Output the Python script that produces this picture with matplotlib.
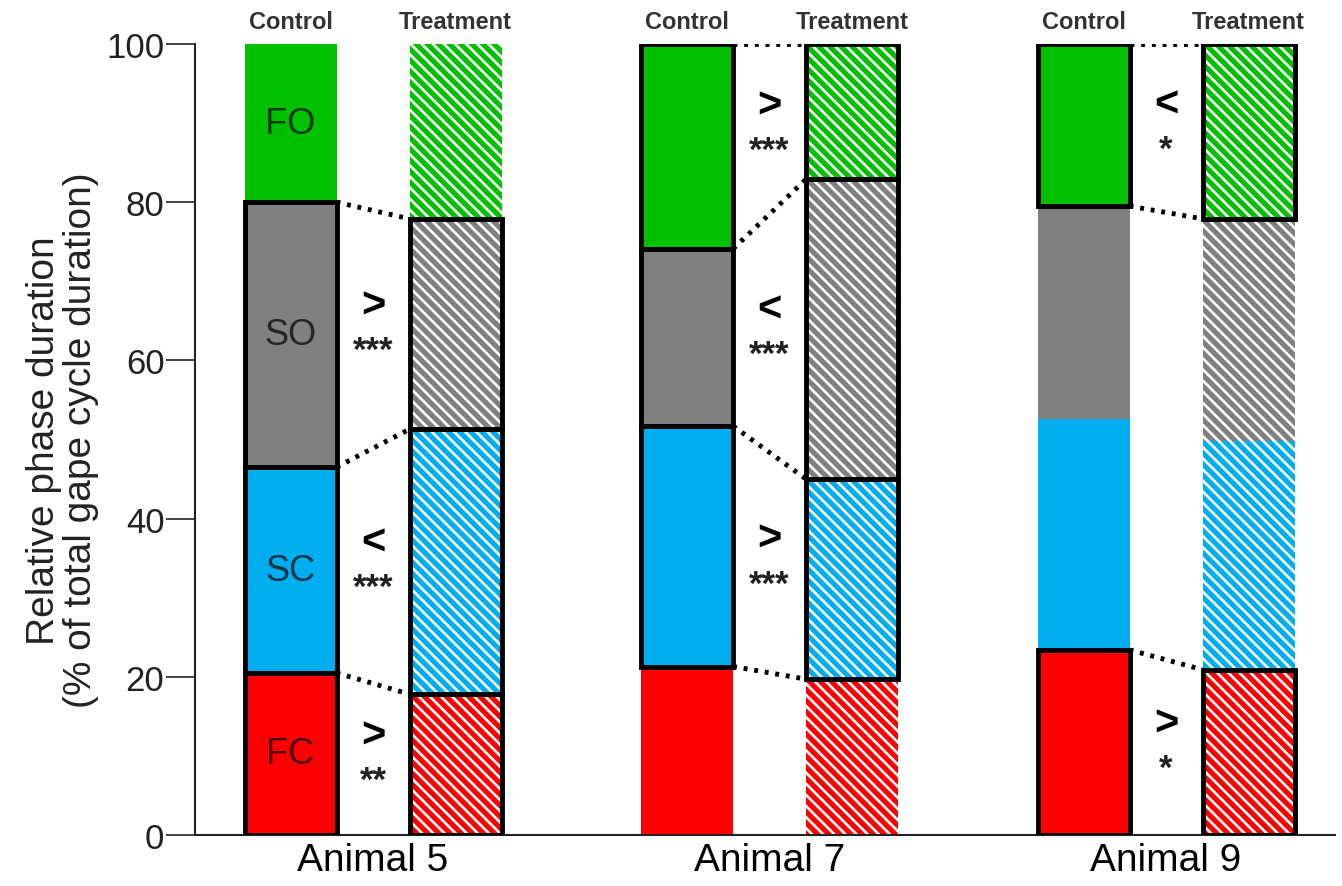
import numpy as np
import matplotlib
matplotlib.use("Agg")
import matplotlib.pyplot as plt

plt.rcParams['font.family'] = ['Liberation Sans', 'DejaVu Sans']
plt.rcParams['hatch.linewidth'] = 1.9

# phase durations (% of gape cycle), bottom to top: FC, SC, SO, FO
phases = ['FC', 'SC', 'SO', 'FO']
phase_colors = ['#ff0000', '#00aeef', '#808080', '#00c000']
animals = ['Animal 5', 'Animal 7', 'Animal 9']

control = [
    [20.5, 26.0, 33.5, 20.0],
    [21.3, 30.4, 22.4, 25.9],
    [23.4, 29.2, 26.9, 20.5],
]
treatment = [
    [17.8, 33.5, 26.6, 22.1],
    [19.7, 25.3, 37.9, 17.1],
    [20.9, 28.9, 28.1, 22.1],
]
# direction of the control vs treatment difference and its significance
direction = [
    ['>', '<', '>', ''],
    ['', '>', '<', '>'],
    ['>', '', '', '<'],
]
stars = [
    ['**', '***', '***', ''],
    ['', '***', '***', '***'],
    ['*', '', '', '*'],
]

fig = plt.figure(figsize=(13.42, 8.87), dpi=100)
ax = fig.add_axes([0.1453, 0.0575, 0.8495, 0.8918])

w = 0.232
off = 0.208
gx = np.arange(len(animals))

for i in range(len(animals)):
    xc, xt = gx[i] - off, gx[i] + off
    cb = np.concatenate([[0], np.cumsum(control[i])])
    tb = np.concatenate([[0], np.cumsum(treatment[i])])
    for j in range(len(phases)):
        ax.bar(xc, control[i][j], w, bottom=cb[j], color=phase_colors[j], linewidth=0)
        ax.bar(xt, treatment[i][j], w, bottom=tb[j], color=phase_colors[j],
               edgecolor='white', linewidth=0, hatch='\\\\\\')
    # outlines, connectors and labels for significant phases
    lines = set()
    for j in range(len(phases)):
        if not stars[i][j]:
            continue
        for x, b, d in [(xc, cb[j], control[i][j]), (xt, tb[j], treatment[i][j])]:
            ax.bar(x, d, w, bottom=b, fill=False, edgecolor='black', linewidth=3.5, zorder=3)
        if j > 0:
            lines.add(j)
        lines.add(j + 1)
        mid = ((cb[j] + cb[j + 1]) / 2 + (tb[j] + tb[j + 1]) / 2) / 2
        ax.text(gx[i], mid + 3.0, direction[i][j], ha='center', va='center',
                fontsize=30, fontweight='bold')
        ax.text(gx[i], mid - 2.7, stars[i][j], ha='center', va='center',
                fontsize=25, fontweight='bold', color='#222222')
    for k in lines:
        ax.plot([xc + w / 2, xt - w / 2], [cb[k], tb[k]], color='black',
                linewidth=3.5, linestyle=(0, (0.8, 1.4)), zorder=2)
    ax.text(xc, 102.9, 'Control', ha='center', va='center', fontsize=17,
            fontweight='bold', color='#333333', clip_on=False)
    ax.text(xt, 102.9, 'Treatment', ha='center', va='center', fontsize=17,
            fontweight='bold', color='#333333', clip_on=False)

# phase names inside the first control bar
cb0 = np.concatenate([[0], np.cumsum(control[0])])
for j, p in enumerate(phases):
    ax.text(gx[0] - off, (cb0[j] + cb0[j + 1]) / 2, p, ha='center', va='center',
            fontsize=26, color='black', alpha=0.7)

ax.set_xlim(-0.449, 2.426)
ax.set_ylim(0, 100)
ax.set_xticks(gx)
ax.set_xticklabels(animals, fontsize=28)
ax.tick_params(axis='x', length=0, pad=5)
ax.set_yticks([0, 20, 40, 60, 80, 100])
ax.tick_params(axis='y', labelsize=25, length=21, width=1.2, pad=1, colors='#222222')
ax.set_ylabel('Relative phase duration\n(% of total gape cycle duration)', fontsize=28,
              labelpad=5, color='#222222', linespacing=1.05)
for s in ['top', 'right']:
    ax.spines[s].set_visible(False)
for s in ['left', 'bottom']:
    ax.spines[s].set_linewidth(1.5)
    ax.spines[s].set_color('#222222')

fig.savefig('out.png', dpi=100, facecolor='white')
